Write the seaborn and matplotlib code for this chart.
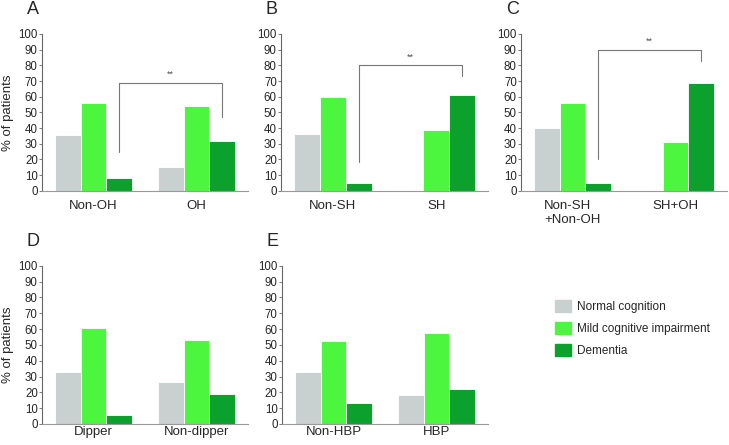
import pandas as pd
import seaborn as sns
import matplotlib.pyplot as plt

levels = ["Normal cognition", "Mild cognitive impairment", "Dementia"]
colors = ["#c9d1d0", "#4cf53e", "#0ca12c"]

groups_a = ["Non-OH", "OH"]
normal_a = [35.5, 15.3]
mci_a = [56, 54]
dementia_a = [8, 31.5]

groups_b = ["Non-SH", "SH"]
normal_b = [36, 0]
mci_b = [60, 38.7]
dementia_b = [4.8, 61.3]

groups_c = ["Non-SH\n+Non-OH", "SH+OH"]
normal_c = [40, 0]
mci_c = [55.8, 31.3]
dementia_c = [5, 68.7]

groups_d = ["Dipper", "Non-dipper"]
normal_d = [33, 26.8]
mci_d = [60.8, 53]
dementia_d = [5.8, 18.7]

groups_e = ["Non-HBP", "HBP"]
normal_e = [33, 18.6]
mci_e = [52.7, 57.7]
dementia_e = [13.5, 21.9]

# significance brackets: (left bottom, top, right bottom)
bracket_a = [25, 69, 47]
bracket_b = [18, 80, 73]
bracket_c = [20, 90, 83]


def make_frame(groups, normal, mci, dementia):
    rows = []
    for g, a, b, c in zip(groups, normal, mci, dementia):
        rows += [(g, levels[0], a), (g, levels[1], b), (g, levels[2], c)]
    return pd.DataFrame(rows, columns=["group", "status", "pct"])


def draw_panel(ax, letter, groups, normal, mci, dementia, ylabel=False, bracket=None, xpad=7):
    df = make_frame(groups, normal, mci, dementia)
    sns.barplot(data=df, x="group", y="pct", hue="status", hue_order=levels,
                palette=colors, saturation=1, width=0.75, gap=0, edgecolor="white",
                linewidth=0.6, errorbar=None, legend=False, ax=ax)
    ax.set_xlim(-0.5, 1.5)
    ax.set_ylim(0, 100)
    ax.set_yticks(range(0, 101, 10))
    ax.set_xlabel("")
    ax.set_ylabel("% of patients" if ylabel else "", fontsize=9.5, labelpad=3)
    for side in ["top", "right"]:
        ax.spines[side].set_visible(False)
    ax.spines["left"].set_color("#666666")
    ax.spines["bottom"].set_color("#999999")
    ax.spines["left"].set_linewidth(0.8)
    ax.spines["bottom"].set_linewidth(0.8)
    ax.tick_params(axis="y", length=2, width=0.6, color="#666666", pad=1, labelsize=8.3)
    ax.tick_params(axis="x", length=0, pad=xpad, labelsize=9.5)
    for lab in ax.get_xticklabels():
        lab.set_multialignment("left")
    ax.text(-0.073, 1.125, letter, transform=ax.transAxes, fontsize=13,
            va="baseline", ha="left")
    if bracket is not None:
        lo, top, ro = bracket
        ax.plot([0.25, 0.25, 1.25, 1.25], [lo, top, top, ro], color="#777777", lw=0.8)
        ax.text(0.75, top + 2.5, "**", ha="center", va="bottom", fontsize=6.5, color="#555555")


sns.set_style("ticks")
plt.rcParams["font.family"] = ["Liberation Sans", "DejaVu Sans"]

fig = plt.figure(figsize=(7.29, 4.45), dpi=100)
ax_a = fig.add_axes([0.0576, 0.5715, 0.2826, 0.3521])
ax_b = fig.add_axes([0.3855, 0.5715, 0.2840, 0.3521])
ax_c = fig.add_axes([0.7147, 0.5715, 0.2826, 0.3521])
ax_d = fig.add_axes([0.0576, 0.0472, 0.2826, 0.3557])
ax_e = fig.add_axes([0.3868, 0.0472, 0.2826, 0.3557])

draw_panel(ax_a, "A", groups_a, normal_a, mci_a, dementia_a, ylabel=True, bracket=bracket_a)
draw_panel(ax_b, "B", groups_b, normal_b, mci_b, dementia_b, bracket=bracket_b)
draw_panel(ax_c, "C", groups_c, normal_c, mci_c, dementia_c, bracket=bracket_c)
draw_panel(ax_d, "D", groups_d, normal_d, mci_d, dementia_d, ylabel=True, xpad=1.5)
draw_panel(ax_e, "E", groups_e, normal_e, mci_e, dementia_e, xpad=1.5)

handles = [plt.Rectangle((0, 0), 1, 1, color=c) for c in colors]
fig.legend(handles, levels, loc="upper left", bbox_to_anchor=(0.761, 0.326),
           frameon=False, fontsize=8.5, handlelength=1.4, handleheight=1.2,
           handletextpad=0.45, labelspacing=0.75, borderpad=0, borderaxespad=0)

fig.savefig("out.png", dpi=100)
